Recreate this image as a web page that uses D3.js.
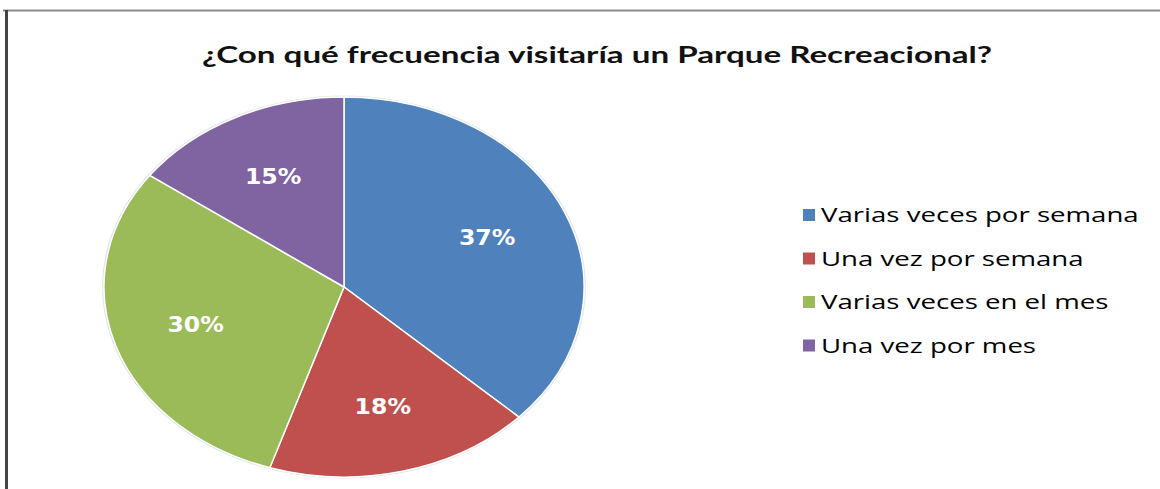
<!DOCTYPE html>
<html><head><meta charset="utf-8">
<script src="https://cdn.jsdelivr.net/npm/d3@7"></script>
<style>html,body{margin:0;padding:0;background:#fff;}svg{display:block;}</style>
</head><body>
<svg id="chart" width="1160" height="489"></svg>
<script>
const title = "¿Con qué frecuencia visitaría un Parque Recreacional?";
const categories = ["Varias veces por semana","Una vez por semana","Varias veces en el mes","Una vez por mes"];
const values = [37, 18, 30, 15];
const colors = ["#4F81BD","#C0504D","#9BBB59","#8064A2"];

const svg = d3.select("#chart");
// frame
svg.append("line").attr("x1",3).attr("x2",1160).attr("y1",10.5).attr("y2",10.5).attr("stroke","#8c8c8c").attr("stroke-width",2);
svg.append("line").attr("x1",6.5).attr("x2",6.5).attr("y1",10).attr("y2",489).attr("stroke","#444").attr("stroke-width",3);

// title
svg.append("text").attr("x",597).attr("y",63)
  .attr("text-anchor","middle")
  .attr("font-family","Lato, 'Open Sans', sans-serif").attr("font-weight","bold")
  .attr("font-size",22.5).attr("fill","#111")
  .attr("textLength",790).attr("lengthAdjust","spacingAndGlyphs")
  .text(title);

// pie (elliptical: circle scaled horizontally)
const cx = 344, cy = 287, rx = 240, ry = 190;
const sx = rx/ry;
const pie = d3.pie().sort(null).value(d=>d)(values);
const arc = d3.arc().innerRadius(0).outerRadius(ry);
const labelArc = d3.arc().innerRadius(ry*0.65).outerRadius(ry*0.65);
const g = svg.append("g").attr("transform",`translate(${cx},${cy}) scale(${sx},1)`);
g.append("ellipse").attr("rx",ry+1.5).attr("ry",ry+1.5).attr("fill","#dfe6ee");
g.selectAll("path.slice").data(pie).join("path").attr("class","slice")
  .attr("d",arc).attr("fill",(d,i)=>colors[i])
  .attr("stroke","#fff").attr("stroke-width",1.5).attr("vector-effect","non-scaling-stroke");

svg.selectAll("text.lbl").data(pie).join("text").attr("class","lbl")
  .attr("transform",d=>{const c=labelArc.centroid(d);return `translate(${cx+c[0]*sx},${cy+c[1]+7}) scale(1.15,1)`;})
  .attr("text-anchor","middle")
  .attr("font-family","'DejaVu Sans', Verdana, sans-serif").attr("font-weight","bold")
  .attr("font-size",20.5).attr("fill","#fff")
  .text(d=>d.value+"%");

// legend
const lg = svg.append("g");
const rows = lg.selectAll("g").data(categories).join("g")
  .attr("transform",(d,i)=>`translate(803,${215+i*43.5})`);
rows.append("rect").attr("x",0).attr("y",-6).attr("width",12).attr("height",12).attr("fill",(d,i)=>colors[i]);
rows.append("text").attr("transform","translate(18,7) scale(1.38,1)")
  .attr("font-family","'Open Sans', sans-serif").attr("font-size",20).attr("fill","#000")
  .text(d=>d);
</script>
</body></html>
